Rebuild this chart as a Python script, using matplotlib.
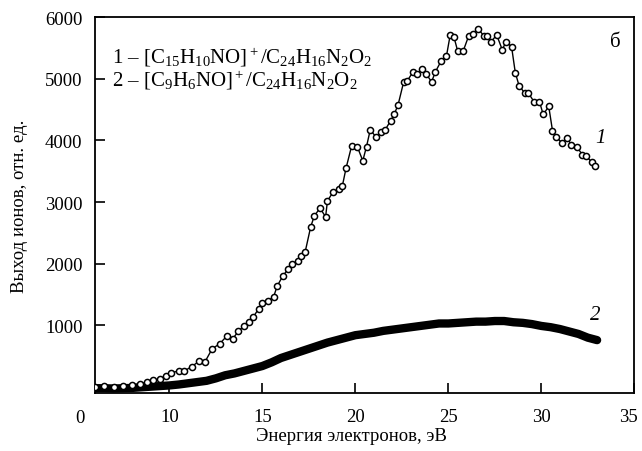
import matplotlib
matplotlib.use("Agg")
import matplotlib.pyplot as plt
import matplotlib.transforms as mtransforms

plt.rcParams['font.family'] = ['Liberation Serif', 'DejaVu Serif']
plt.rcParams['mathtext.fontset'] = 'custom'
plt.rcParams['mathtext.rm'] = 'Liberation Serif'
plt.rcParams['mathtext.it'] = 'Liberation Serif:italic'

# curve 1: [C15H10NO]+ (open circles)
e1 = [6.0, 6.5, 7.0, 7.5, 8.0, 8.4, 8.8, 9.1, 9.5, 9.8, 10.1, 10.5, 10.8, 11.2,
      11.6, 11.9, 12.3, 12.7, 13.1, 13.4, 13.7, 14.0, 14.3, 14.5, 14.8, 15.0,
      15.3, 15.6, 15.8, 16.1, 16.4, 16.6, 16.9, 17.1, 17.3, 17.6, 17.8, 18.1,
      18.4, 18.5, 18.8, 19.1, 19.3, 19.5, 19.8, 20.1, 20.4, 20.6, 20.8, 21.1,
      21.4, 21.6, 21.9, 22.1, 22.3, 22.6, 22.8, 23.1, 23.3, 23.6, 23.8, 24.1,
      24.3, 24.6, 24.9, 25.1, 25.3, 25.5, 25.8, 26.1, 26.3, 26.6, 26.9, 27.1,
      27.3, 27.6, 27.9, 28.1, 28.4, 28.6, 28.8, 29.1, 29.3, 29.6, 29.9, 30.1,
      30.4, 30.6, 30.8, 31.1, 31.4, 31.6, 31.9, 32.2, 32.4, 32.7, 32.9]
y1 = [0, 10, 0, 20, 30, 50, 80, 110, 130, 180, 230, 260, 260, 330,
      420, 400, 620, 700, 830, 780, 900, 990, 1050, 1130, 1270, 1360,
      1400, 1460, 1640, 1800, 1920, 1990, 2050, 2120, 2190, 2600, 2780, 2900,
      2760, 3020, 3160, 3210, 3260, 3550, 3910, 3900, 3670, 3900, 4170, 4060,
      4140, 4170, 4320, 4430, 4580, 4950, 4970, 5110, 5080, 5150, 5080, 4950,
      5110, 5280, 5370, 5710, 5680, 5450, 5450, 5700, 5730, 5810, 5700, 5700,
      5600, 5710, 5470, 5600, 5520, 5100, 4890, 4770, 4770, 4630, 4630, 4420,
      4550, 4160, 4060, 3960, 4040, 3930, 3900, 3770, 3750, 3650, 3590]

# curve 2: [C9H6NO]+ (thick band of filled points)
e2 = [6.0, 6.5, 7.0, 7.5, 8.0, 8.5, 9.0, 9.5, 10.0, 10.5, 11.0, 11.5, 12.0,
      12.5, 13.0, 13.5, 14.0, 14.5, 15.0, 15.5, 16.0, 16.5, 17.0, 17.5, 18.0,
      18.5, 19.0, 19.5, 20.0, 20.5, 21.0, 21.5, 22.0, 22.5, 23.0, 23.5, 24.0,
      24.5, 25.0, 25.5, 26.0, 26.5, 27.0, 27.5, 28.0, 28.5, 29.0, 29.5, 30.0,
      30.5, 31.0, 31.5, 32.0, 32.5, 33.0]
y2 = [-20, -20, -25, -20, -15, -5, 5, 15, 25, 40, 60, 80, 100,
      140, 190, 220, 260, 300, 340, 400, 470, 520, 570, 620, 670,
      720, 760, 800, 840, 860, 880, 910, 930, 950, 970, 990, 1010,
      1030, 1030, 1040, 1050, 1060, 1060, 1070, 1070, 1050, 1040, 1020, 990,
      970, 940, 900, 860, 800, 760]

fig = plt.figure(figsize=(6.42, 4.52), dpi=100)
ax = fig.add_axes([0.148, 0.128, 0.840, 0.832])

ax.plot(e2, y2, color='black', lw=6, solid_capstyle='round', zorder=2)
ax.plot(e1, y1, color='black', lw=1.0, marker='o', ms=4.4, mfc='white',
        mec='black', mew=1.1, zorder=3)

ax.set_xlim(6, 35)
ax.set_ylim(-100, 6000)
ax.set_xticks([10, 15, 20, 25, 30, 35])
ax.set_yticks([1000, 2000, 3000, 4000, 5000, 6000])
ax.tick_params(direction='in', length=7, width=1.2, labelsize=13.5, pad=11)
ax.tick_params(axis='y', pad=9)
for s in ax.spines.values():
    s.set_linewidth(1.3)

# last x label sits a bit left of its tick, as in the original
lbl = ax.get_xticklabels()[-1]
lbl.set_transform(lbl.get_transform() + mtransforms.ScaledTranslation(-4/72, 0, fig.dpi_scale_trans))

trans = mtransforms.blended_transform_factory(ax.transData, ax.transAxes)
ax.text(5.2, -0.065, "0", transform=trans, ha='center', va='center', fontsize=13.5)

ax.set_xlabel("Энергия электронов, эВ", fontsize=13.5)
ax.xaxis.set_label_coords(0.475, -0.09)
ax.set_ylabel("Выход ионов, отн. ед.", fontsize=13.5, labelpad=12)

ax.text(0.031, 0.895, r"$\mathit{1}$ – [C$_{15}$H$_{10}$NO]$^+$/C$_{24}$H$_{16}$N$_2$O$_2$",
        transform=ax.transAxes, fontsize=15, va='center')
ax.text(0.031, 0.835, r"$\mathit{2}$ – [C$_9$H$_6$NO]$^+$/C$_{24}$H$_{16}$N$_2$O$_2$",
        transform=ax.transAxes, fontsize=15, va='center')
ax.text(0.965, 0.935, "б", transform=ax.transAxes, fontsize=15, ha='center', va='center')
ax.text(33.2, 4050, "1", fontsize=15, style='italic', ha='center', va='center')
ax.text(32.9, 1180, "2", fontsize=15, style='italic', ha='center', va='center')

fig.savefig("out.png", dpi=100)
